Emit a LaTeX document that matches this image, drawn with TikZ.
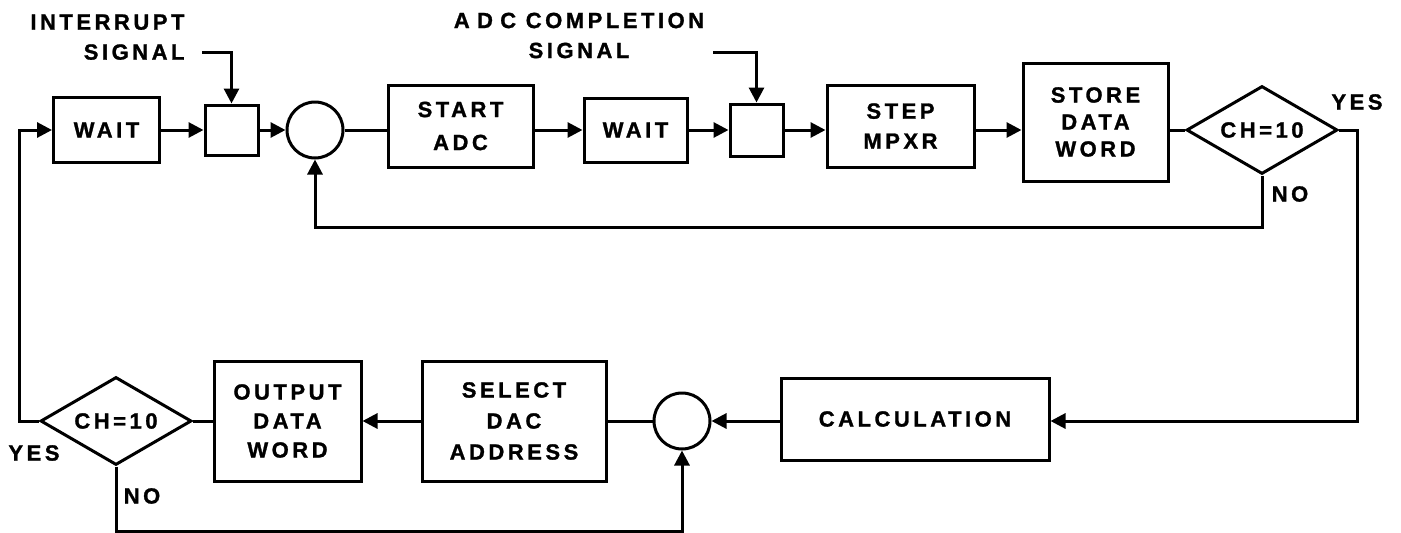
\documentclass[tikz,border=0pt]{standalone}
\usepackage{fontspec}
\setmainfont{Liberation Sans}[LetterSpace=16,BoldFeatures={FakeBold=1.2}]
\usetikzlibrary{shapes.geometric,arrows.meta}
\begin{document}
\begin{tikzpicture}[x=1pt,y=-1pt,line width=3pt,line join=miter,
  every node/.style={font=\fontsize{22}{30}\bfseries\selectfont,inner sep=0pt},
  box/.style={draw,rectangle,align=center},
  rnd/.style={draw,circle,minimum size=56pt},
  dia/.style={draw,diamond,minimum width=151pt,minimum height=88pt,aspect=1.72},
  arr/.style={-{Triangle[length=15pt,width=15pt]}}]
\useasboundingbox (0,0) rectangle (1401,533);
% top row
\node[box,minimum width=106pt,minimum height=65pt] (wait1) at (106.5,130) {WAIT};
\node[box,minimum width=53pt,minimum height=50pt] (sb1) at (231.5,130) {};
\node[rnd] (c1) at (315,130) {};
\node[box,minimum width=145pt,minimum height=82pt,font=\fontsize{22}{33}\bfseries\selectfont] (start) at (460.5,126) {START\\ADC};
\node[box,minimum width=103pt,minimum height=64pt] (wait2) at (635.5,130) {WAIT};
\node[box,minimum width=53pt,minimum height=52pt] (sb2) at (756.5,130) {};
\node[box,minimum width=147pt,minimum height=82pt] (step) at (900.5,126) {STEP\\MPXR};
\node[box,minimum width=145pt,minimum height=118pt,font=\fontsize{22}{27}\bfseries\selectfont] (store) at (1095.5,122) {STORE\\DATA\\WORD};
\node[dia] (d1) at (1262,130) {CH=10};
% bottom row
\node[box,minimum width=268pt,minimum height=82pt] (calc) at (915,419) {CALCULATION};
\node[rnd] (c2) at (682,421) {};
\node[box,minimum width=184pt,minimum height=120pt,font=\fontsize{22}{31}\bfseries\selectfont] (sel) at (514,421) {SELECT\\DAC\\ADDRESS};
\node[box,minimum width=147pt,minimum height=120pt,font=\fontsize{22}{29}\bfseries\selectfont] (out) at (287.5,421) {OUTPUT\\DATA\\WORD};
\node[dia] (d2) at (116,421) {CH=10};
% signal labels
\node[align=right,anchor=north east] (intr) at (186,13) {INTERRUPT\\SIGNAL};
\node[align=center] (adc) at (579,35.5) {A\,\,D\,\,C COMPLETION\\SIGNAL};
\coordinate (intrsrc) at (202,52);
\coordinate (adcsrc) at (713,52);
\coordinate (rt) at (1357,130);
\coordinate (lt) at (19,421);
\coordinate (fbtop) at (1262,227);
\coordinate (fbbot) at (116,531);
% yes/no labels
\node (yes1) at (1357,102) {YES};
\node (no1) at (1290,194) {NO};
\node (yes2) at (34,453) {YES};
\node (no2) at (142,496) {NO};
% connectors top
\draw[arr] (intrsrc) -| (sb1.north);
\draw[arr] (adcsrc) -| (sb2.north);
\draw[arr] (wait1.east) -- (sb1.west);
\draw[arr] (sb1.east) -- (c1.west);
\draw (c1.east) -- (c1.east -| start.west);
\draw[arr] (wait2.west -| start.east) -- (wait2.west);
\draw[arr] (wait2.east) -- (sb2.west);
\draw[arr] (sb2.east) -- (sb2.east -| step.west);
\draw[arr] (d1.west -| step.east) -- (d1.west -| store.west);
\draw (d1.west -| store.east) -- (d1.west);
\draw[arr] (d1.south) -- (fbtop) -| (c1.south);
\draw[arr] (d1.east) -- (rt) |- (calc.east |- c2.east);
% connectors bottom
\draw[arr] (calc.west |- c2.east) -- (c2.east);
\draw (c2.west) -- (c2.west -| sel.east);
\draw[arr] (sel.west) -- (out.east);
\draw (out.west) -- (d2.east);
\draw[arr] (d2.west) -- (lt) |- (wait1.west);
\draw[arr] (d2.south) -- (fbbot) -| (c2.south);
\end{tikzpicture}
\end{document}
